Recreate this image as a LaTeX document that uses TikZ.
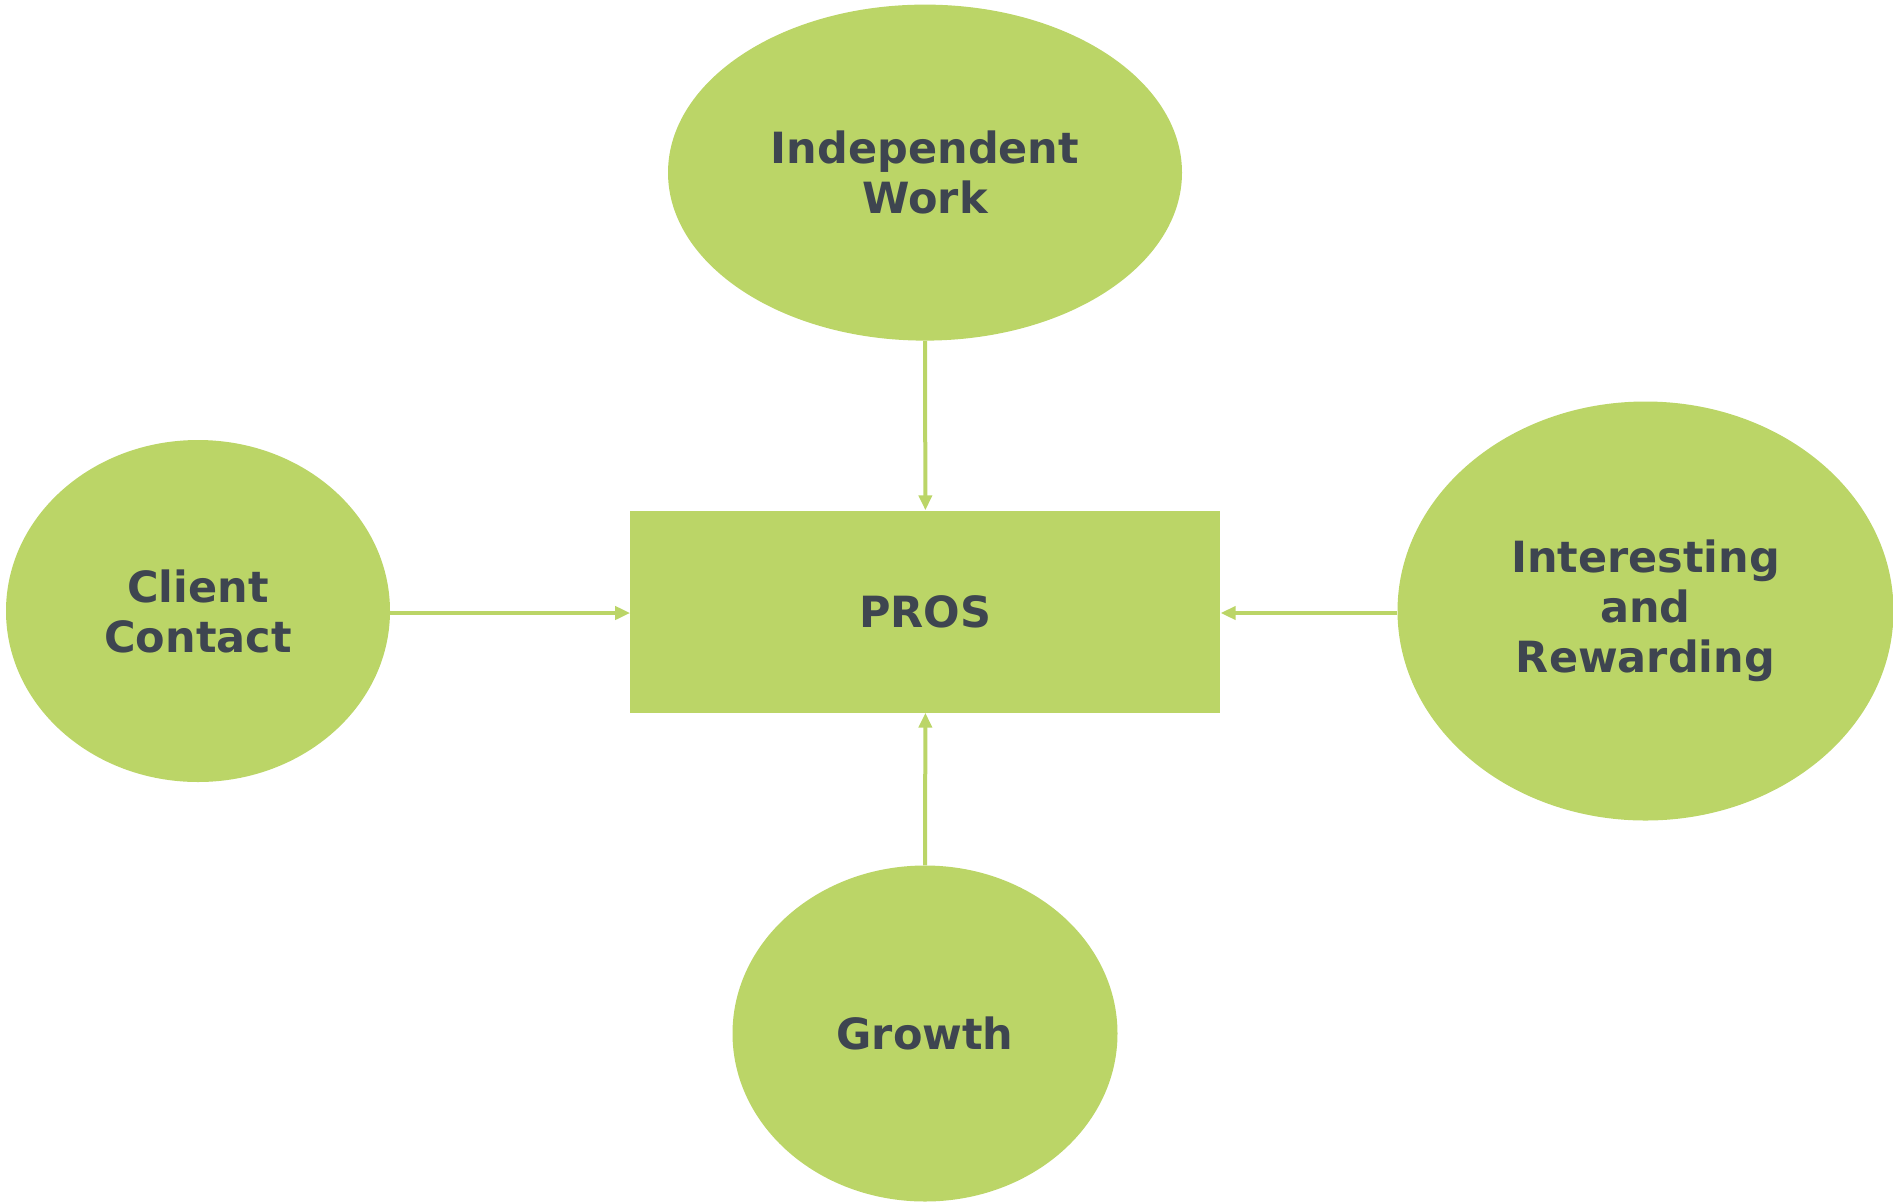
\documentclass[tikz,border=0pt]{standalone}
\usepackage{fontspec}
\setmainfont{DejaVu Sans}
\usetikzlibrary{shapes.geometric,arrows.meta}
\definecolor{leaf}{HTML}{BBD567}
\definecolor{ink}{HTML}{3E4550}
\begin{document}
\begin{tikzpicture}[x=1pt,y=-1pt,
  bubble/.style={ellipse, fill=leaf, inner sep=0pt, align=center,
    font=\fontsize{43}{50}\selectfont\bfseries, text=ink},
  hub/.style={rectangle, fill=leaf, inner sep=0pt,
    minimum width=590pt, minimum height=202pt,
    font=\fontsize{43}{50}\selectfont\bfseries, text=ink},
  feed/.style={draw=leaf, line width=4pt,
    -{Triangle[length=15pt,width=13pt]}, shorten >=0pt}]
\useasboundingbox (0,0) rectangle (1893,1203);

% central box
\node[hub] (pros) at (925.4,611.5) {PROS};

% surrounding factors
\node[bubble, minimum width=514pt, minimum height=336pt] (indep) at (925,172.6) {Independent\\Work};
\node[bubble, minimum width=384pt, minimum height=342pt] (client) at (198,611) {Client\\Contact};
\node[bubble, minimum width=496pt, minimum height=419pt] (inter) at (1645.5,611) {Interesting\\and\\Rewarding};
\node[bubble, minimum width=385pt, minimum height=336pt] (growth) at (925,1033.5) {Growth};

% connectors into the box
\draw[feed] (indep.south) -- (pros.north);
\draw[feed] (client.east |- 0,613) -- (pros.west |- 0,613);
\draw[feed] (inter.west |- 0,613) -- (pros.east |- 0,613);
\draw[feed] (growth.north) -- (pros.south);
\end{tikzpicture}
\end{document}
